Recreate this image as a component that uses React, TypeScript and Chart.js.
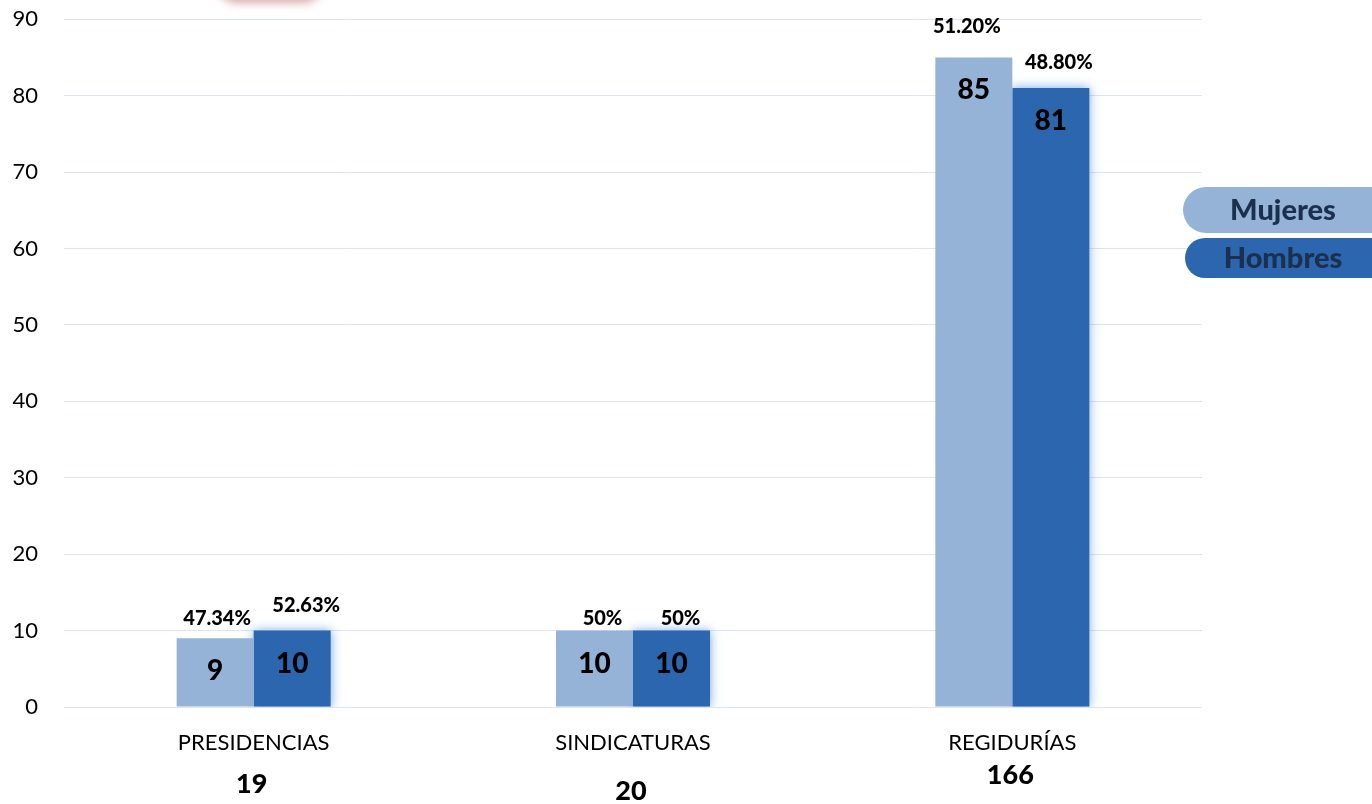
import React, { useEffect, useRef } from "react";
import { Chart, registerables } from "chart.js";

Chart.register(...registerables);

const categories = ["PRESIDENCIAS", "SINDICATURAS", "REGIDURÍAS"];
const mujeres = [9, 10, 85];
const hombres = [10, 10, 81];
const mujeresPct = ["47.34%", "50%", "51.20%"];
const hombresPct = ["52.63%", "50%", "48.80%"];
const totals = ["19", "20", "166"];
const seriesNames = ["Mujeres", "Hombres"];

const COLOR_M = "#95B3D7";
const COLOR_H = "#2C66AE";
const FONT = "Lato, 'Open Sans', sans-serif";

// canvas is shifted up by this much so the plot top sits at the page's y=18
const SHIFT = 20;
// style-only offsets for label placement
const totalsDy = [0, 7, -9];
const pctDx = [[2, 14], [8, 9], [-7, 8]];
const pctDy = [[-20, -25], [-12, -12], [-31, -25]];

const glowPlugin = {
  id: "glow",
  beforeDatasetDraw(chart: any, args: any) {
    if (args.index === 1) {
      const ctx = chart.ctx;
      ctx.save();
      ctx.shadowColor = "rgba(95,155,235,0.9)";
      ctx.shadowBlur = 10;
    }
  },
  afterDatasetDraw(chart: any, args: any) {
    if (args.index === 1) chart.ctx.restore();
  },
};

const labelsPlugin = {
  id: "labels",
  afterDatasetsDraw(chart: any) {
    const ctx = chart.ctx;
    const vals = [mujeres, hombres];
    const pcts = [mujeresPct, hombresPct];
    ctx.save();
    ctx.textAlign = "center";
    ctx.textBaseline = "middle";
    ctx.fillStyle = "#000";
    [0, 1].forEach((di) => {
      const meta = chart.getDatasetMeta(di);
      meta.data.forEach((bar: any, i: number) => {
        ctx.font = `900 28px ${FONT}`;
        ctx.fillText(String(vals[di][i]), bar.x, bar.y + 33);
        ctx.font = `900 20px ${FONT}`;
        ctx.fillText(pcts[di][i], bar.x + pctDx[i][di], bar.y + pctDy[i][di]);
      });
    });
    const xs = chart.scales.x;
    ctx.font = `900 27px ${FONT}`;
    totals.forEach((t, i) => {
      ctx.fillText(t, xs.getPixelForValue(i) - 2, 784 + SHIFT + totalsDy[i]);
    });
    ctx.restore();
  },
  afterDraw(chart: any) {
    const ctx = chart.ctx;
    ctx.save();
    // cut-off shape shadow at top
    ctx.shadowColor = "rgba(170,70,70,0.45)";
    ctx.shadowBlur = 8;
    ctx.shadowOffsetY = 3;
    ctx.fillStyle = "#fff";
    ctx.beginPath();
    ctx.roundRect(217, SHIFT - 40, 106, 40, 20);
    ctx.fill();
    ctx.restore();
    ctx.save();
    ctx.fillStyle = "#fff";
    ctx.fillRect(0, 0, 1372, SHIFT);
    ctx.restore();

    // legend pills
    ctx.save();
    ctx.fillStyle = COLOR_M;
    ctx.beginPath();
    ctx.roundRect(1183, 187 + SHIFT, 240, 46, 23);
    ctx.fill();
    ctx.fillStyle = COLOR_H;
    ctx.beginPath();
    ctx.roundRect(1185, 238 + SHIFT, 240, 40, 20);
    ctx.fill();
    ctx.fillStyle = "#1B2F4E";
    ctx.textAlign = "center";
    ctx.textBaseline = "middle";
    ctx.font = `900 29px ${FONT}`;
    ctx.fillText(seriesNames[0], 1283, 211 + SHIFT);
    ctx.fillText(seriesNames[1], 1283, 259 + SHIFT);
    ctx.restore();
  },
};

export default function App() {
  const ref = useRef<HTMLCanvasElement>(null);
  useEffect(() => {
    document.body.style.margin = "0";
    const chart = new Chart(ref.current!, {
      type: "bar",
      data: {
        labels: categories,
        datasets: [
          { label: seriesNames[0], data: mujeres, backgroundColor: COLOR_M, borderWidth: 0 },
          { label: seriesNames[1], data: hombres, backgroundColor: COLOR_H, borderWidth: 0 },
        ],
      },
      options: {
        animation: false,
        responsive: false,
        layout: { padding: { top: 0, right: 170, left: 0, bottom: 0 } },
        plugins: { legend: { display: false }, tooltip: { enabled: false } },
        datasets: { bar: { categoryPercentage: 0.406, barPercentage: 1 } },
        scales: {
          x: {
            grid: { display: false, drawTicks: false },
            border: { display: false },
            ticks: { color: "#000", font: { family: FONT, size: 22 }, padding: 23 },
            afterFit: (s: any) => { s.height = 97; },
          },
          y: {
            min: 0,
            max: 90,
            ticks: { stepSize: 10, color: "#000", font: { family: FONT, size: 22 }, padding: 26 },
            grid: { color: "#DCE4EF", drawTicks: false, lineWidth: 1 },
            border: { display: false },
            afterFit: (s: any) => { s.width = 64; },
          },
        },
      },
      plugins: [glowPlugin, labelsPlugin],
    } as any);
    return () => chart.destroy();
  }, []);
  return (
    <div style={{ position: "absolute", left: 0, top: 0, width: 1372, height: 804, overflow: "hidden", background: "#fff" }}>
      <canvas ref={ref} width={1372} height={804 + SHIFT} style={{ position: "absolute", left: 0, top: -SHIFT }} />
    </div>
  );
}
